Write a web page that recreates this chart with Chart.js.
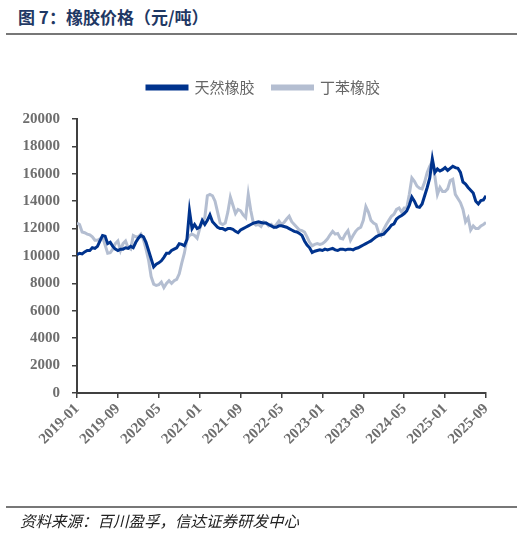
<!DOCTYPE html>
<html>
<head>
<meta charset="utf-8">
<script src="https://cdn.jsdelivr.net/npm/chart.js@4.4.0/dist/chart.umd.min.js"></script>
<style>
  html, body { margin: 0; padding: 0; background: #fff; }
  #wrap { position: relative; width: 527px; height: 534px; overflow: hidden; }
  #title { position: absolute; left: 18px; top: 4px; font: bold 17px "Noto Sans CJK SC", sans-serif; color: #1f3864; white-space: nowrap; }
  .rule { position: absolute; left: 6px; width: 511px; height: 2px; background: #777; }
  #source { position: absolute; left: 20px; top: 509px; font: italic 15.5px "Noto Sans CJK SC", sans-serif; color: #222; white-space: nowrap; }
  #chartBox { position: absolute; left: 0; top: 0; width: 527px; height: 534px; }
</style>
</head>
<body>
<div id="wrap">
  <div id="title">图 7：橡胶价格（元/吨）</div>
  <div class="rule" style="top:33px"></div>
  <div id="chartBox"><canvas id="rubberChart" width="527" height="534"></canvas></div>
  <div class="rule" style="top:506px"></div>
  <div id="source">资料来源：百川盈孚，信达证券研发中心</div>
</div>
<script>
// tick labels, one every 8 months (x = months since 2019-01)
const tickLabels = ['2019-01', '2019-09', '2020-05', '2021-01', '2021-09', '2022-05',
                    '2023-01', '2023-09', '2024-05', '2025-01', '2025-09'];
const seriesNames = ['天然橡胶', '丁苯橡胶'];

// half-month readings, 2019-01 .. 2025-09 (yuan/ton)
const naturalRubber = [
  10100, 10200, 10150, 10300, 10400, 10400, 10600, 10550, 10700, 11100, 11500, 11450, 10900, 11000, 10700, 10500,
  10400, 10500, 10500, 10600, 10550, 10700, 10600, 11000, 11300, 11500, 11400, 11000, 10400, 9800, 9200, 9400,
  9500, 9650, 9900, 10200, 10200, 10400, 10500, 10600, 10900, 10850, 10750, 11200, 13300, 12000, 12300, 12000,
  12100, 12600, 12300, 12600, 13000, 12500, 12300, 12100, 12000, 12000, 11900, 12000, 12000, 11950, 11800, 11700,
  11900, 12000, 12100, 12200, 12300, 12400, 12450, 12500, 12450, 12400, 12400, 12300, 12200, 12100, 12100, 12200,
  12200, 12150, 12100, 12000, 11900, 11800, 11750, 11650, 11500, 11100, 10800, 10600, 10250, 10350, 10400, 10450,
  10400, 10500, 10450, 10500, 10550, 10450, 10400, 10500, 10500, 10450, 10500, 10500, 10450, 10550, 10600, 10700,
  10800, 10900, 11000, 11100, 11250, 11400, 11500, 11550, 11600, 11800, 12000, 12250, 12350, 12700, 12850, 12950,
  13100, 13300, 13700, 14300, 14000, 13600, 13550, 13800, 14400, 15000, 15700, 17100, 16100, 16350, 16200, 16300,
  16450, 16250, 16400, 16550, 16450, 16400, 16100, 15400, 15250, 15000, 14800, 14600, 14000, 13800, 14050, 14100,
  14400
];
const sbrRubber = [
  12400, 12300, 11750, 11700, 11600, 11550, 11400, 11150, 11150, 11250, 11400, 10800, 10200, 10250, 10500, 10900,
  11100, 10400, 10900, 11100, 10600, 10500, 11500, 11400, 11400, 11600, 11200, 10500, 9700, 8500, 7950, 7850,
  7900, 8100, 7700, 8000, 8200, 8000, 8200, 8300, 8700, 9500, 10200, 11200, 11500, 11600, 11500, 11300,
  12000, 12500, 12800, 14400, 14500, 14400, 14000, 13200, 12400, 12300, 12400, 13200, 14300, 13700, 13100, 13400,
  13300, 13000, 12800, 14500, 13300, 12400, 12250, 12300, 12150, 12500, 12400, 12200, 12300, 12100, 12300, 12550,
  12300, 12450, 12700, 12900, 12500, 12300, 12100, 11900, 11850, 11750, 11400, 11000, 10750, 10850, 10900, 10850,
  10900, 11050, 11250, 11550, 11800, 11600, 11650, 11300, 11250, 11600, 11850, 11150, 11500, 11800, 12000, 12100,
  12600, 13600, 13200, 12600, 12400, 12300, 11700, 11500, 11950, 12300, 12600, 12900, 13050, 13400, 13500, 13200,
  13500, 13500, 14500, 15700, 15450, 15100, 14950, 14900, 15400, 16100, 16550, 16900, 15800, 14500, 15000, 14700,
  14700, 14900, 15500, 15600, 14500, 14200, 13900, 13400, 12500, 12800, 11900, 12200, 12000, 12000, 12200, 12300,
  12450
];

const toPoints = arr => arr.map((v, i) => ({ x: i / 2, y: v }));

const axisFont = { family: '"Liberation Serif", "Times New Roman", serif', size: 15, weight: 'bold' };

// leave some room under the legend before the plot starts
const legendGap = {
  id: 'legendGap',
  beforeInit(chart) {
    const origFit = chart.legend.fit;
    chart.legend.fit = function() {
      origFit.bind(chart.legend)();
      this.height += 14;
    };
  }
};

const ctx = document.getElementById('rubberChart').getContext('2d');
const rubberChart = new Chart(ctx, {
  type: 'line',
  data: {
    datasets: [{
      label: seriesNames[0],
      data: toPoints(naturalRubber),
      borderColor: '#00338d',
      backgroundColor: '#00338d',
      borderWidth: 3,
      pointRadius: 0,
      tension: 0
    }, {
      label: seriesNames[1],
      data: toPoints(sbrRubber),
      borderColor: '#b4bed1',
      backgroundColor: '#b4bed1',
      borderWidth: 3,
      pointRadius: 0,
      tension: 0
    }]
  },
  options: {
    responsive: false,
    animation: false,
    devicePixelRatio: 1,
    layout: { padding: { left: 20, right: 20, top: 62, bottom: 0 } },
    plugins: {
      legend: {
        display: true,
        position: 'top',
        labels: {
          boxWidth: 40,
          boxHeight: 3,
          padding: 18,
          color: '#666',
          font: { family: '"Noto Sans CJK SC", sans-serif', size: 15 }
        }
      },
      tooltip: { enabled: false }
    },
    scales: {
      x: {
        type: 'linear',
        min: 0,
        max: 80,
        ticks: {
          stepSize: 8,
          autoSkip: false,
          minRotation: 45,
          maxRotation: 45,
          padding: 2,
          color: '#6e6e6e',
          font: axisFont,
          callback: v => tickLabels[Math.round(v / 8)]
        },
        grid: { display: true, drawOnChartArea: false, tickLength: 5, color: '#404040', lineWidth: 1.5 },
        border: { color: '#404040', width: 2 },
        afterFit(scale) {
          scale.height = 141;
          scale.paddingLeft = 0;
          scale.paddingRight = 41;
        }
      },
      y: {
        min: 0,
        max: 20000,
        ticks: {
          stepSize: 2000,
          padding: 12,
          color: '#6e6e6e',
          font: axisFont,
          callback: v => String(v)
        },
        grid: { display: true, drawOnChartArea: false, tickLength: 5, color: '#404040', lineWidth: 1.5 },
        border: { color: '#404040', width: 2 },
        afterFit(scale) {
          scale.width = 57;
        }
      }
    }
  },
  plugins: [legendGap]
});
</script>
</body>
</html>
